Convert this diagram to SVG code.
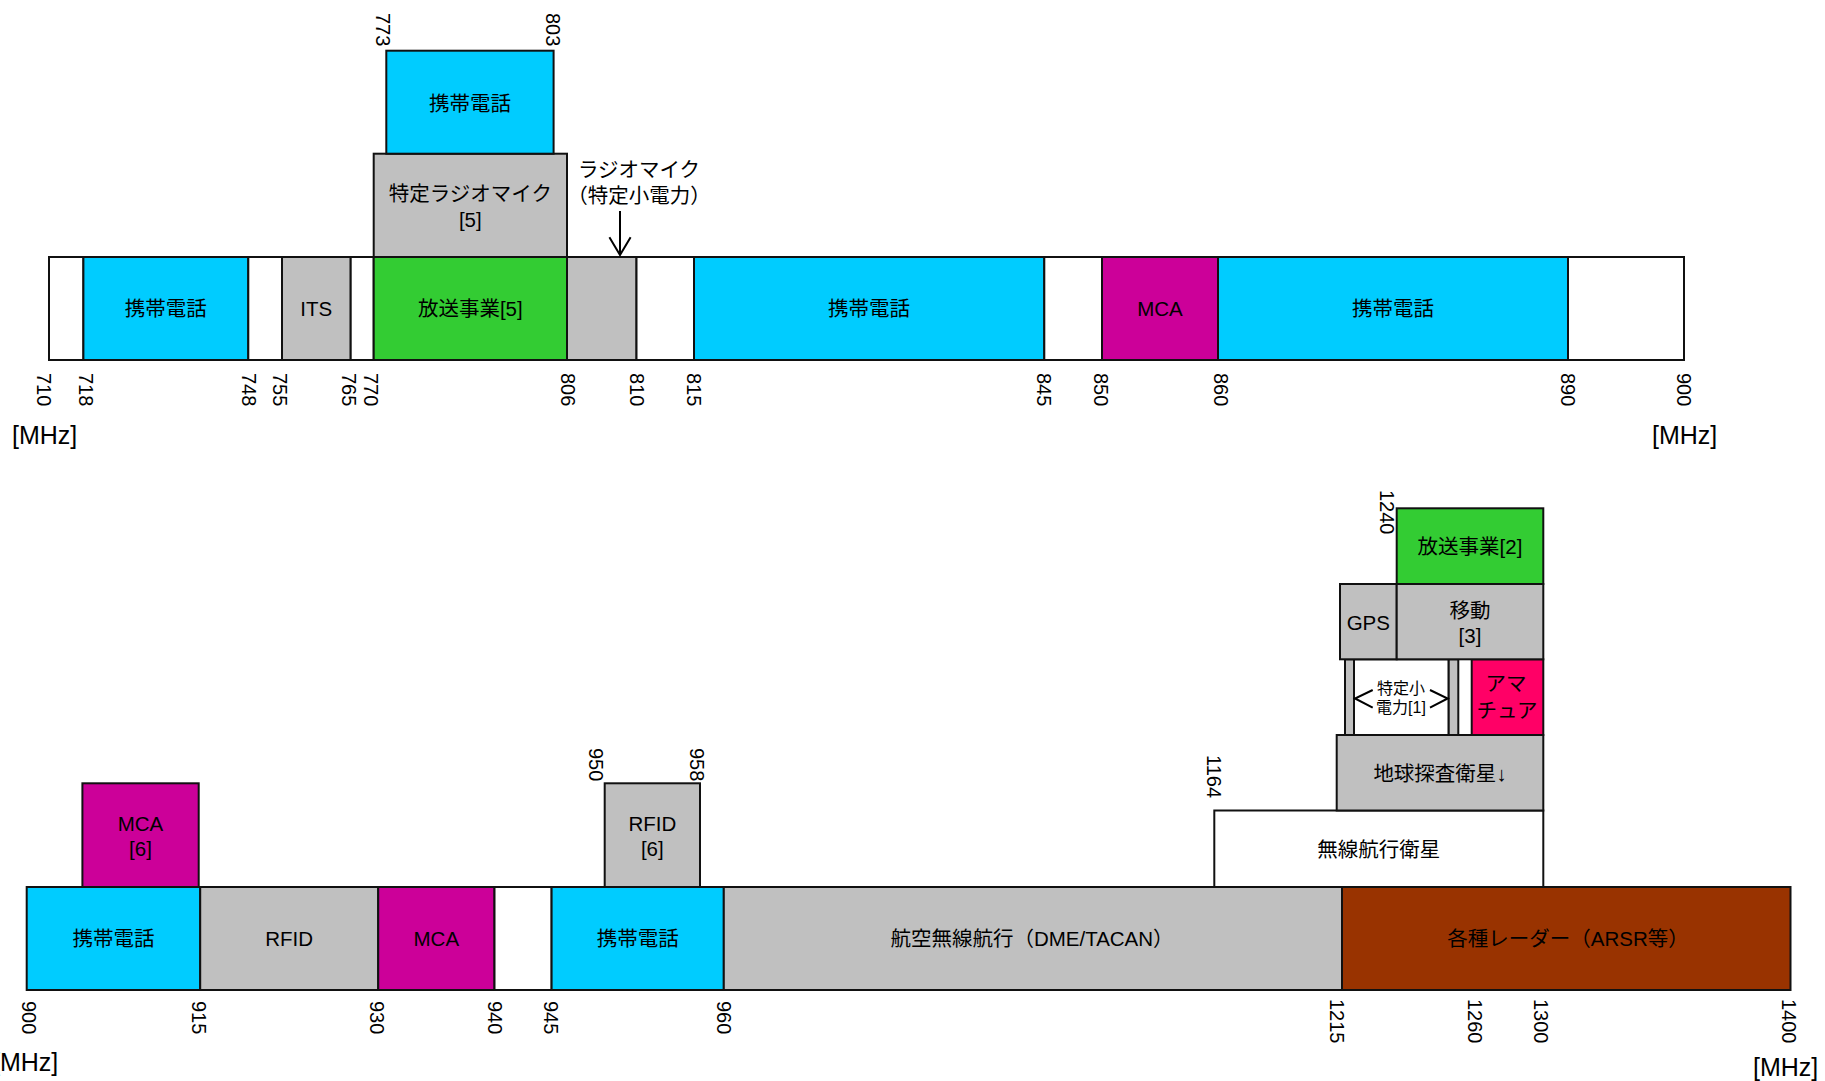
<svg xmlns="http://www.w3.org/2000/svg" width="1825" height="1081" viewBox="0 0 1825 1081">
<style>
rect { stroke: #111; stroke-width: 2; }
rect.bg { stroke: none; fill: #FFFFFF; }
.w { fill: #FFFFFF; }
.c { fill: #00CCFF; }
.g { fill: #C0C0C0; }
.gr { fill: #33CC33; }
.m { fill: #CC0099; }
.p { fill: #FF0066; }
.b { fill: #993300; }
text { font-family: "Liberation Sans", "Noto Sans CJK JP", sans-serif; fill: #000; }
.t { font-size: 20.5px; text-anchor: middle; dominant-baseline: central; }
.s { font-size: 16px; text-anchor: middle; dominant-baseline: central; }
.n { font-size: 20px; }
.u { font-size: 25px; }
.ln { stroke: #000; stroke-width: 2; fill: none; }
</style>
<rect class="bg" x="0" y="0" width="1825" height="1081"/>

<!-- Top band 710-900 MHz -->
<g id="top-710-718"><rect class="w" x="49" y="257" width="34.4" height="103"/></g>
<g id="top-cell-718-748"><rect class="c" x="83.4" y="257" width="164.9" height="103"/><text class="t" x="165.8" y="308.5">携帯電話</text></g>
<g id="top-748-755"><rect class="w" x="248.3" y="257" width="33.7" height="103"/></g>
<g id="top-its"><rect class="g" x="282" y="257" width="68.7" height="103"/><text class="t" x="316.3" y="308.5">ITS</text></g>
<g id="top-765-770"><rect class="w" x="350.7" y="257" width="23" height="103"/></g>
<g id="top-broadcast"><rect class="gr" x="373.7" y="257" width="193.3" height="103"/><text class="t" x="470.3" y="308.5">放送事業[5]</text></g>
<g id="top-806-810"><rect class="g" x="567" y="257" width="69.5" height="103"/></g>
<g id="top-810-815"><rect class="w" x="636.5" y="257" width="57.5" height="103"/></g>
<g id="top-cell-815-845"><rect class="c" x="694" y="257" width="350.3" height="103"/><text class="t" x="869" y="308.5">携帯電話</text></g>
<g id="top-845-850"><rect class="w" x="1044.3" y="257" width="57.7" height="103"/></g>
<g id="top-mca"><rect class="m" x="1102" y="257" width="116" height="103"/><text class="t" x="1160" y="308.5">MCA</text></g>
<g id="top-cell-860-890"><rect class="c" x="1218" y="257" width="350" height="103"/><text class="t" x="1393" y="308.5">携帯電話</text></g>
<g id="top-890-900"><rect class="w" x="1568" y="257" width="116" height="103"/></g>

<g id="top-radiomic"><rect class="g" x="373.7" y="153.7" width="193.3" height="103.3"/><text class="t" x="470.3" y="193">特定ラジオマイク</text><text class="t" x="470.3" y="219">[5]</text></g>
<g id="top-cell-773-803"><rect class="c" x="386.3" y="50.7" width="167.3" height="103"/><text class="t" x="470" y="103">携帯電話</text></g>

<g id="top-labels">
<text class="n" x="0" y="7" transform="translate(383,13) rotate(90)">773</text>
<text class="n" x="0" y="7" transform="translate(552.5,13) rotate(90)">803</text>
<text class="n" x="0" y="7" transform="translate(44,373) rotate(90)">710</text>
<text class="n" x="0" y="7" transform="translate(86.3,373) rotate(90)">718</text>
<text class="n" x="0" y="7" transform="translate(249,373) rotate(90)">748</text>
<text class="n" x="0" y="7" transform="translate(280,373) rotate(90)">755</text>
<text class="n" x="0" y="7" transform="translate(349,373) rotate(90)">765</text>
<text class="n" x="0" y="7" transform="translate(370.8,373) rotate(90)">770</text>
<text class="n" x="0" y="7" transform="translate(568,373) rotate(90)">806</text>
<text class="n" x="0" y="7" transform="translate(636.5,373) rotate(90)">810</text>
<text class="n" x="0" y="7" transform="translate(694,373) rotate(90)">815</text>
<text class="n" x="0" y="7" transform="translate(1044,373) rotate(90)">845</text>
<text class="n" x="0" y="7" transform="translate(1101.3,373) rotate(90)">850</text>
<text class="n" x="0" y="7" transform="translate(1221,373) rotate(90)">860</text>
<text class="n" x="0" y="7" transform="translate(1568,373) rotate(90)">890</text>
<text class="n" x="0" y="7" transform="translate(1683.7,373) rotate(90)">900</text>
<text class="u" x="12" y="444">[MHz]</text>
<text class="u" x="1652" y="444">[MHz]</text>
</g>

<g id="radiomic-lowpower-label">
<text class="t" x="639" y="169.3">ラジオマイク</text>
<text class="t" x="639" y="195">（特定小電力）</text>
</g>

<!-- Bottom band 900-1400 MHz -->
<g id="bot-cell-900-915"><rect class="c" x="26.7" y="887" width="173.5" height="103"/><text class="t" x="113.5" y="938.5">携帯電話</text></g>
<g id="bot-rfid"><rect class="g" x="200.2" y="887" width="178" height="103"/><text class="t" x="289.2" y="938.5">RFID</text></g>
<g id="bot-mca"><rect class="m" x="378.2" y="887" width="116.3" height="103"/><text class="t" x="436.3" y="938.5">MCA</text></g>
<g id="bot-940-945"><rect class="w" x="494.5" y="887" width="57.1" height="103"/></g>
<g id="bot-cell-945-960"><rect class="c" x="551.6" y="887" width="172.2" height="103"/><text class="t" x="637.7" y="938.5">携帯電話</text></g>
<g id="bot-aeronav"><rect class="g" x="723.8" y="887" width="618.2" height="103"/><text class="t" x="1032" y="938.5">航空無線航行（DME/TACAN）</text></g>
<g id="bot-radar"><rect class="b" x="1342" y="887" width="448.5" height="103"/><text class="t" x="1568" y="938.5">各種レーダー（ARSR等）</text></g>

<g id="bot-mca6"><rect class="m" x="82.4" y="783.3" width="116.3" height="103.7"/><text class="t" x="140.5" y="823">MCA</text><text class="t" x="140.5" y="848.5">[6]</text></g>
<g id="bot-rfid6"><rect class="g" x="604.7" y="783.3" width="95.3" height="103.7"/><text class="t" x="652.3" y="823">RFID</text><text class="t" x="652.3" y="848.5">[6]</text></g>
<g id="bot-rnss"><rect class="w" x="1214.3" y="810.5" width="329" height="76.5"/><text class="t" x="1378.8" y="849.5">無線航行衛星</text></g>
<g id="bot-eess"><rect class="g" x="1336.7" y="735" width="206.6" height="75.5"/><text class="t" x="1440" y="773.3">地球探査衛星↓</text></g>
<g id="bot-lowpower">
<rect class="g" x="1345" y="659.3" width="9" height="75.7"/>
<rect class="w" x="1354" y="659.3" width="94.7" height="75.7"/>
<rect class="g" x="1448.7" y="659.3" width="9.6" height="75.7"/>
<polyline class="ln" points="1372.7,690 1355,698.5 1372.7,707.7"/>
<polyline class="ln" points="1430,690 1447.7,698.5 1430,707.7"/>
<text class="s" x="1401" y="688.3">特定小</text>
<text class="s" x="1401" y="707.7">電力[1]</text>
</g>
<g id="bot-amateur"><rect class="p" x="1471.7" y="659.3" width="71.6" height="75.7"/><text class="t" x="1506" y="683.3">アマ</text><text class="t" x="1507" y="710">チュア</text></g>
<g id="bot-gps"><rect class="g" x="1340" y="584" width="56.7" height="75.3"/><text class="t" x="1368.3" y="622.7">GPS</text></g>
<g id="bot-mobile3"><rect class="g" x="1396.7" y="584" width="146.6" height="75.3"/><text class="t" x="1470" y="610">移動</text><text class="t" x="1470" y="635">[3]</text></g>
<g id="bot-broadcast2"><rect class="gr" x="1396.7" y="508.3" width="146.6" height="75.7"/><text class="t" x="1470" y="546">放送事業[2]</text></g>

<g id="bottom-labels">
<text class="n" x="0" y="7" transform="translate(595.8,748) rotate(90)">950</text>
<text class="n" x="0" y="7" transform="translate(696.7,748) rotate(90)">958</text>
<text class="n" x="0" y="7" transform="translate(1214,755) rotate(90)">1164</text>
<text class="n" x="0" y="7" transform="translate(1386.7,490) rotate(90)">1240</text>
<text class="n" x="0" y="7" transform="translate(28.5,1001) rotate(90)">900</text>
<text class="n" x="0" y="7" transform="translate(199,1001) rotate(90)">915</text>
<text class="n" x="0" y="7" transform="translate(377,1001) rotate(90)">930</text>
<text class="n" x="0" y="7" transform="translate(495,1001) rotate(90)">940</text>
<text class="n" x="0" y="7" transform="translate(551,1001) rotate(90)">945</text>
<text class="n" x="0" y="7" transform="translate(724,1001) rotate(90)">960</text>
<text class="n" x="0" y="7" transform="translate(1337,999) rotate(90)">1215</text>
<text class="n" x="0" y="7" transform="translate(1475,999) rotate(90)">1260</text>
<text class="n" x="0" y="7" transform="translate(1541,999) rotate(90)">1300</text>
<text class="n" x="0" y="7" transform="translate(1789,999) rotate(90)">1400</text>
<text class="u" x="-7" y="1071">[MHz]</text>
<text class="u" x="1753" y="1076">[MHz]</text>
</g>

<g id="connectors">
<line class="ln" x1="620" y1="211" x2="620" y2="255"/>
<polyline class="ln" points="609.4,237.3 620,255 630.6,237.3"/>
</g>
</svg>
